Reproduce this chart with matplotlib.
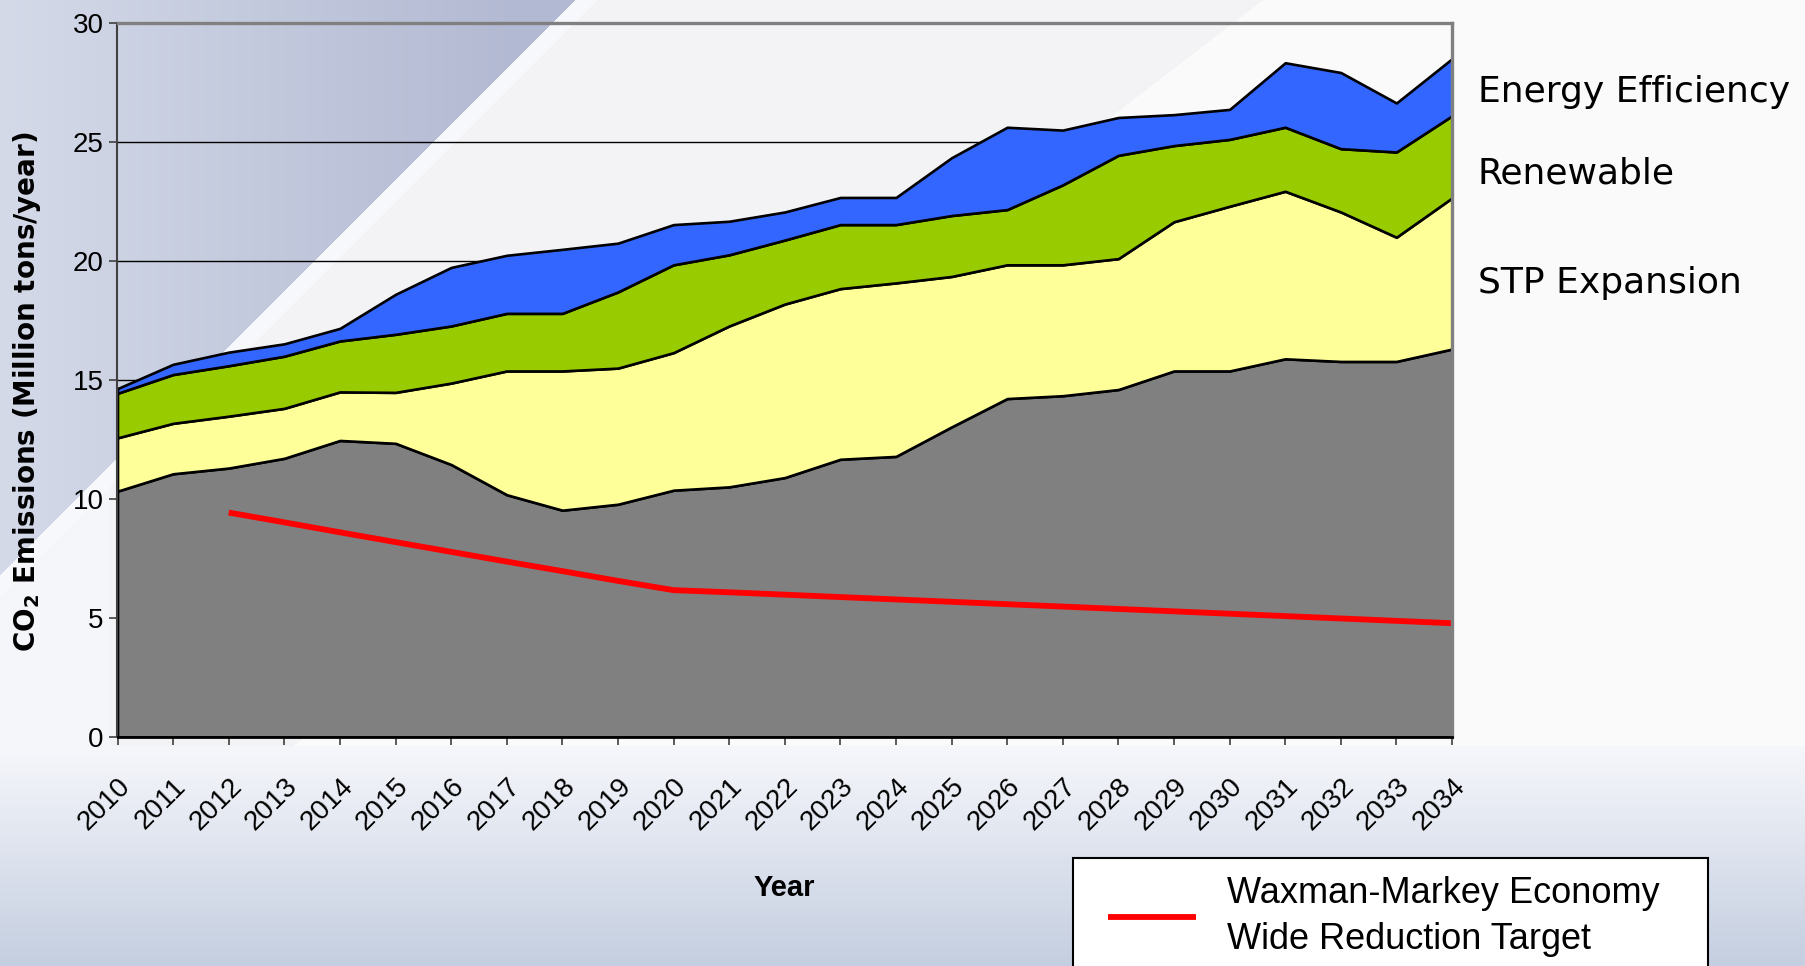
import numpy as np
import matplotlib
matplotlib.use('Agg')
import matplotlib.pyplot as plt
from matplotlib.patches import Rectangle

years = list(range(2010, 2035))

# base emissions (gray) and the stacked wedges on top of it
base = [10.33, 11.06, 11.30, 11.71, 12.46, 12.34, 11.45, 10.18, 9.53, 9.78,
        10.37, 10.51, 10.90, 11.67, 11.79, 13.03, 14.22, 14.34, 14.60, 15.38,
        15.38, 15.89, 15.78, 15.78, 16.30]
stp = [2.24, 2.12, 2.18, 2.10, 2.04, 2.14, 3.42, 5.20, 5.85, 5.72,
       5.78, 6.76, 7.29, 7.17, 7.29, 6.32, 5.62, 5.50, 5.50, 6.27,
       6.92, 7.04, 6.28, 5.22, 6.35]
renewable = [1.87, 2.05, 2.12, 2.19, 2.14, 2.44, 2.40, 2.42, 2.42, 3.20,
             3.69, 2.99, 2.69, 2.69, 2.45, 2.56, 2.32, 3.36, 4.34, 3.20,
             2.81, 2.69, 2.66, 3.58, 3.45]
efficiency = [0.20, 0.43, 0.57, 0.52, 0.53, 1.68, 2.46, 2.44, 2.69, 2.05,
              1.69, 1.41, 1.18, 1.14, 1.14, 2.43, 3.46, 2.30, 1.59, 1.30,
              1.26, 2.71, 3.20, 2.06, 2.40]

target_years = list(range(2012, 2035))
target = [9.43, 9.02, 8.60, 8.19, 7.78, 7.37, 6.97, 6.56, 6.17, 6.08,
          5.98, 5.88, 5.78, 5.68, 5.58, 5.48, 5.38, 5.28, 5.18, 5.08,
          4.98, 4.88, 4.78]

layer_names = ['Base', 'STP Expansion', 'Renewable', 'Energy Efficiency']
layer_colors = ['#808080', '#FFFF99', '#99CC00', '#3366FF']

W, H = 1806, 966
fig = plt.figure(figsize=(W / 100, H / 100), dpi=100)

# slide-style background
yy, xx = np.mgrid[0:H, 0:W].astype(float)
img = np.ones((H, W, 3)) * np.array([243, 243, 245]) / 255
light = (xx - 1262) + yy * 1.3 > 0
img = np.where(light[..., None], np.array([250, 250, 251]) / 255, img)
t = np.clip(xx / 520.0, 0, 1)[..., None]
dark = (np.array([212, 218, 232]) * (1 - t) + np.array([178, 185, 210]) * t) / 255
d = xx + yy - 575
img = np.where((d < 0)[..., None], dark, img)
band = ((d >= 0) & (d < 22))[..., None]
img = np.where(band, np.array([246, 248, 252]) / 255, img)
left_lo = ((d >= 22) & (xx < 110))[..., None]
img = np.where(left_lo, np.array([244, 246, 250]) / 255, img)
g = np.clip((yy - 745) / (H - 745), 0, 1)[..., None]
bottom = (np.array([246, 247, 251]) * (1 - g) + np.array([196, 206, 224]) * g) / 255
img = np.where((yy > 745)[..., None], bottom, img)
bg = fig.add_axes([0, 0, 1, 1], zorder=0)
bg.imshow(img, aspect='auto', extent=[0, 1, 0, 1])
bg.axis('off')

ax = fig.add_axes([117.5 / W, 1 - 737 / H, (1452 - 117.5) / W, (737 - 23) / H], zorder=1)
ax.patch.set_alpha(0)
ax.stackplot(years, base, stp, renewable, efficiency, colors=layer_colors,
             edgecolor='black', linewidth=1.9, labels=layer_names)
line, = ax.plot(target_years, target, color='#FF0000', linewidth=4.2,
                solid_capstyle='butt')

ax.set_xlim(2010, 2034)
ax.set_ylim(0, 30)
ax.set_yticks(range(0, 31, 5))
ax.set_xticks(years)
ax.set_axisbelow(True)
ax.yaxis.grid(True, color='black', linewidth=1.0)

for s in ['top', 'right']:
    ax.spines[s].set_color('#808080')
    ax.spines[s].set_linewidth(2.4)
ax.spines['left'].set_color('#404040')
ax.spines['left'].set_linewidth(1.5)
ax.spines['bottom'].set_color('black')
ax.spines['bottom'].set_linewidth(2.0)

ax.tick_params(axis='both', direction='out', length=6, width=1.2, color='#404040')
ax.tick_params(axis='y', pad=4)
ax.tick_params(axis='x', pad=20)
for lab in ax.get_yticklabels():
    lab.set_fontsize(20)
    lab.set_family('Liberation Sans')
for lab in ax.get_xticklabels():
    lab.set_fontsize(20)
    lab.set_family('Liberation Sans')
    lab.set_rotation(45)
    lab.set_ha('right')
    lab.set_va('top')
    lab.set_rotation_mode('anchor')

fig.text(27 / W, 1 - 392 / H, 'CO$_\\mathbf{2}$ Emissions (Million tons/year)', fontsize=20,
         fontweight='bold', family=['DejaVu Sans'], rotation=90, ha='center', va='center')
fig.text(784 / W, 1 - 888 / H, 'Year', fontsize=21, fontweight='bold',
         family=['Liberation Sans Narrow', 'Liberation Sans'], ha='center', va='center')

side_font = dict(fontsize=26, family=['DejaVu Sans'], va='center', ha='left')
fig.text(1478 / W, 1 - 92 / H, 'Energy Efficiency', **side_font)
fig.text(1478 / W, 1 - 173 / H, 'Renewable', **side_font)
fig.text(1478 / W, 1 - 283 / H, 'STP Expansion', **side_font)

# legend box runs off the bottom of the slide
fig.patches.append(Rectangle((1073 / W, -0.05), (1708 - 1073) / W, 0.05 + 1 - 858 / H,
                             transform=fig.transFigure, facecolor='white',
                             edgecolor='black', linewidth=1.5, zorder=2))
leg = fig.legend([line], ['Waxman-Markey Economy\nWide Reduction Target'],
                 loc='upper left', bbox_to_anchor=(1108 / W, 1 - 876 / H),
                 borderaxespad=0, frameon=False, borderpad=0,
                 handlelength=2.45, handletextpad=0.85,
                 prop=dict(family=['Liberation Sans Narrow', 'Liberation Sans'], size=26))
leg.set_zorder(3)
leg.get_texts()[0].set_linespacing(1.4)

fig.savefig('out.png', dpi=100)
